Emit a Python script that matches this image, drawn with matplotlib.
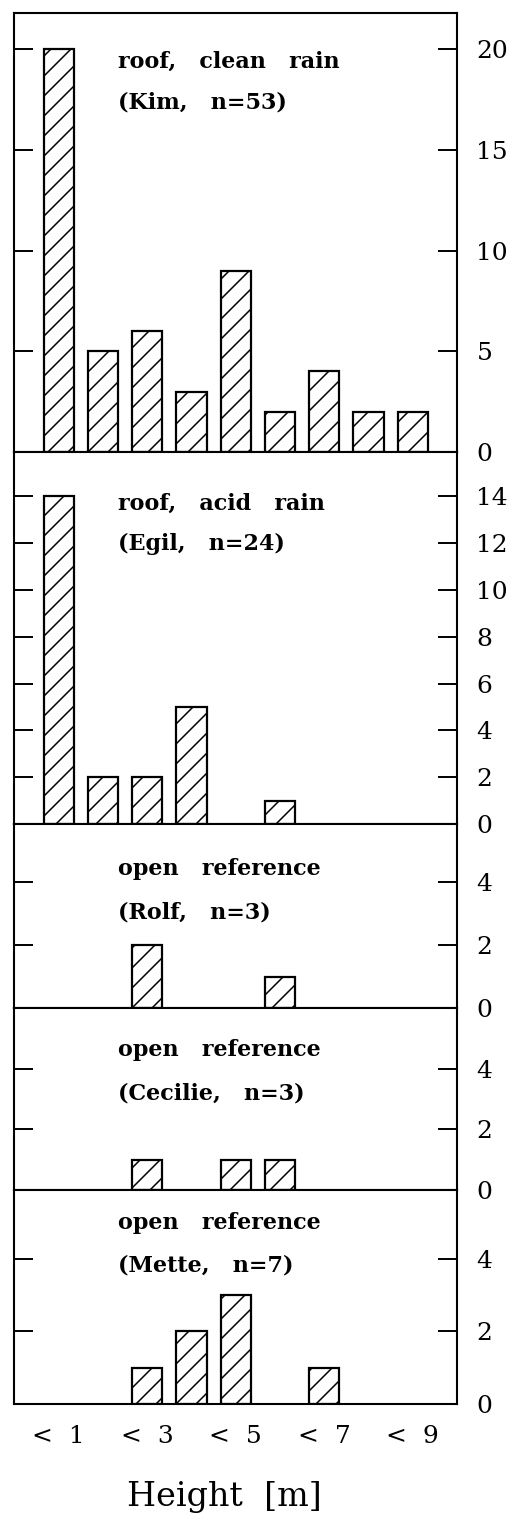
import numpy as np
import matplotlib
matplotlib.use("Agg")
import matplotlib.pyplot as plt

plt.rcParams['font.family'] = ['DejaVu Serif']

DPI = 120
S = 100 / DPI  # sizes below are given as if at 100 dpi
plt.rcParams['hatch.linewidth'] = 1.1 * S

positions = [1, 2, 3, 4, 5, 6, 7, 8, 9]
xtick_pos = [1, 3, 5, 7, 9]
xtick_labels = ['<  1', '<  3', '<  5', '<  7', '<  9']

kim = [20, 5, 6, 3, 9, 2, 4, 2, 2]
egil = [14, 2, 2, 5, 0, 1, 0, 0, 0]
rolf = [0, 0, 2, 0, 0, 1, 0, 0, 0]
cecilie = [0, 0, 1, 0, 1, 1, 0, 0, 0]
mette = [0, 0, 1, 2, 3, 0, 1, 0, 0]

panels = [
    (kim, 'roof,   clean   rain', '(Kim,   n=53)', 21.8, [0, 5, 10, 15, 20]),
    (egil, 'roof,   acid   rain', '(Egil,   n=24)', 15.9, [0, 2, 4, 6, 8, 10, 12, 14]),
    (rolf, 'open   reference', '(Rolf,   n=3)', 5.86, [0, 2, 4]),
    (cecilie, 'open   reference', '(Cecilie,   n=3)', 6.0, [0, 2, 4]),
    (mette, 'open   reference', '(Mette,   n=7)', 5.9, [0, 2, 4]),
]

fig = plt.figure(figsize=(517 / DPI, 1517 / DPI), dpi=DPI)
gs = fig.add_gridspec(5, 1, height_ratios=[439, 372, 184, 182, 214], hspace=0,
                      left=0.028, right=0.884, top=0.9914, bottom=0.0745)

# text line positions (pixels below top of each panel)
offsets = [(49, 89), (52, 92), (45, 88), (42, 85), (33, 76)]

for i, (vals, line1, line2, ymax, yt) in enumerate(panels):
    ax = fig.add_subplot(gs[i])
    heights = [v if v > 0 else np.nan for v in vals]
    ax.bar(positions, heights, width=0.68, facecolor='white', edgecolor='black',
           hatch='//', linewidth=1.6 * S)
    ax.set_xlim(0, 10)
    ax.set_ylim(0, ymax)
    ax.set_yticks(yt)
    ax.tick_params(axis='y', direction='in', length=14 * S, width=1.4 * S,
                   left=True, right=True, labelleft=False, labelright=True,
                   labelsize=18 * S, pad=14 * S)
    for s in ax.spines.values():
        s.set_linewidth(1.5 * S)
    h = ax.get_window_extent().height
    o1, o2 = offsets[i]
    ax.text(0.233, 1 - o1 / h, line1, transform=ax.transAxes, fontsize=16 * S,
            fontweight='bold', ha='left', va='center')
    ax.text(0.233, 1 - o2 / h, line2, transform=ax.transAxes, fontsize=16 * S,
            fontweight='bold', ha='left', va='center')
    if i < 4:
        ax.tick_params(axis='x', bottom=False, labelbottom=False)
    else:
        ax.set_xticks(xtick_pos)
        ax.set_xticklabels(xtick_labels, fontsize=18 * S)
        ax.tick_params(axis='x', length=0, pad=15 * S)

fig.text(224 / 517, 1 - 1497 / 1517, 'Height  [m]', fontsize=24 * S,
         ha='center', va='center')

fig.savefig('out.png', dpi=DPI)
